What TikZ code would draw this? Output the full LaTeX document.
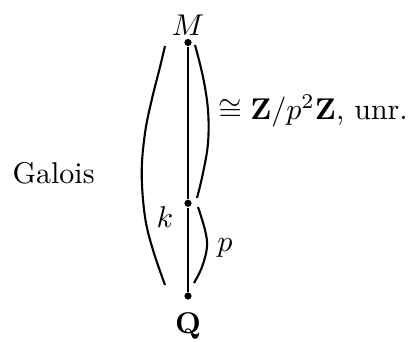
\documentclass[tikz,border=0pt]{standalone}
\usepackage{amssymb}
\begin{document}
\begin{tikzpicture}[x=0.3333pt,y=-0.3333pt,
  ln/.style={line width=0.7pt},
  dotnode/.style={circle,fill=black,inner sep=0pt,minimum size=2.4pt},
  lbl/.style={inner sep=0pt}]
\useasboundingbox (0,0) rectangle (415,341);
\node[dotnode] (m) at (188,42.5) {};
\node[dotnode] (k) at (188,203.3) {};
\node[dotnode] (q) at (188,296) {};
\draw[ln] (m) -- (k) -- (q);
\node[lbl,anchor=base] (ml) at (188,35) {$M$};
\node[lbl,anchor=base] (ql) at (188,333) {$\mathbf{Q}$};
\node[lbl,anchor=base] (kl) at (165,227) {$k$};
\node[lbl,anchor=base] (pl) at (225,251) {$p$};
\node[lbl,anchor=base west] (gl) at (12,183) {Galois};
\node[lbl,anchor=base west] (zl) at (218,119) {$\cong \mathbf{Z}/p^2\mathbf{Z}$, unr.};
\draw[ln] plot[smooth,tension=0.6] coordinates {(165,46) (160,67) (151.7,100) (145,133) (141.7,173) (145,217) (153,250) (165,285)};
\draw[ln] plot[smooth,tension=0.6] coordinates {(195,45) (203,77) (208,110) (208,143) (203,173) (197,198)};
\draw[ln] plot[smooth,tension=0.6] coordinates {(198,207) (205,230) (207,247) (202,267) (194,283)};
\end{tikzpicture}
\end{document}
